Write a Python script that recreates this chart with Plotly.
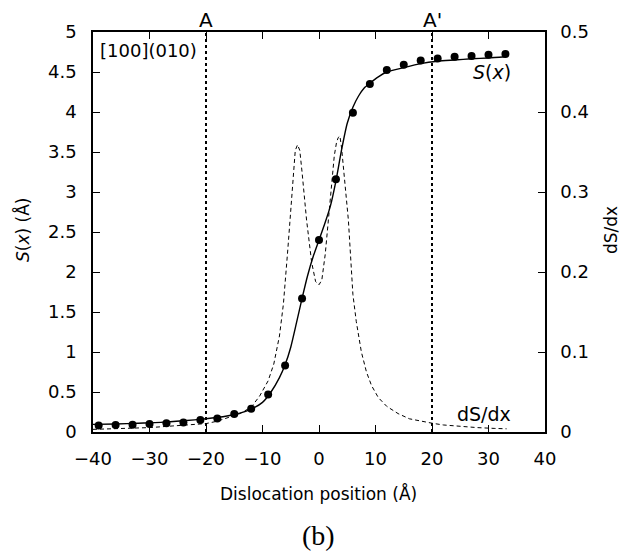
import plotly.graph_objects as go

# Simulated displacement S(x) at sampled dislocation positions (dots)
pos_x = [-39, -36, -33, -30, -27, -24, -21, -18, -15, -12, -9, -6, -3,
         0, 3, 6, 9, 12, 15, 18, 21, 24, 27, 30, 33]
pos_s = [0.08, 0.088, 0.092, 0.10, 0.108, 0.12, 0.15, 0.17, 0.225, 0.29,
         0.47, 0.83, 1.67, 2.40, 3.16, 3.99, 4.35, 4.525, 4.59, 4.645,
         4.67, 4.69, 4.70, 4.715, 4.725]

# Fitted S(x) curve
fit_x = [-40, -36, -32, -28, -24, -20, -17, -14, -12, -10, -8.5, -7, -6,
         -5, -4, -3, -2, -1, 0, 1, 2, 3, 4, 5, 6, 7, 8, 9, 10.5, 12, 15,
         18, 21, 24, 27, 30, 33]
fit_s = [0.095, 0.10, 0.11, 0.12, 0.14, 0.165, 0.19, 0.235, 0.285, 0.37,
         0.50, 0.68, 0.84, 1.06, 1.36, 1.67, 1.96, 2.20, 2.40, 2.60, 2.82,
         3.14, 3.53, 3.86, 4.06, 4.20, 4.30, 4.36, 4.44, 4.50, 4.555,
         4.605, 4.635, 4.65, 4.665, 4.675, 4.69]

# Derivative dS/dx (right axis)
der_x = [-40, -35, -30, -26, -22, -20, -18, -16, -14, -12, -10.5, -9, -8,
         -7, -6.3, -5.5, -5, -4.5, -4.2, -3.8, -3.4, -3, -2.2, -1.3, -0.6,
         0, 0.5, 1.1, 1.9, 2.7, 3.1, 3.4, 3.7, 4.0, 4.4, 5.2, 6.0, 6.6,
         7.5, 8.4, 9.3, 10.5, 12, 14, 16, 18, 20, 22, 25, 28, 31, 33.2]
der_y = [0.0033, 0.0042, 0.0055, 0.0075, 0.0092, 0.0105, 0.0135, 0.018,
         0.023, 0.031, 0.045, 0.064, 0.085, 0.12, 0.16, 0.23, 0.28, 0.33,
         0.352, 0.359, 0.352, 0.325, 0.265, 0.212, 0.188, 0.184, 0.19,
         0.222, 0.285, 0.345, 0.362, 0.368, 0.37, 0.355, 0.325, 0.265,
         0.172, 0.138, 0.10, 0.075, 0.058, 0.043, 0.032, 0.023, 0.0165,
         0.0135, 0.011, 0.0088, 0.0068, 0.0055, 0.0045, 0.004]

# Reference positions A and A'
ref_x = [-20, 20]
ref_labels = ["A", "A'"]

x_ticks = list(range(-40, 41, 10))
y_ticks = [0, 0.5, 1, 1.5, 2, 2.5, 3, 3.5, 4, 4.5, 5]
y2_ticks = [0, 0.1, 0.2, 0.3, 0.4, 0.5]

FONT = "DejaVu Sans"


def label(text, x, y, xref="paper", yref="paper", size=18, xanchor="center",
          family=FONT, angle=0):
    fig.add_annotation(x=x, y=y, xref=xref, yref=yref, text=text,
                       showarrow=False, xanchor=xanchor, yanchor="middle",
                       textangle=angle,
                       font=dict(family=family, size=size, color="black"))


fig = go.Figure()

fig.add_trace(go.Scatter(
    x=der_x, y=der_y, mode="lines", yaxis="y2",
    line=dict(color="black", width=1, dash="4px,3px"),
    showlegend=False))

fig.add_trace(go.Scatter(
    x=fit_x, y=fit_s, mode="lines",
    line=dict(color="black", width=1.4, shape="spline", smoothing=0.6),
    showlegend=False))

fig.add_trace(go.Scatter(
    x=pos_x, y=pos_s, mode="markers",
    marker=dict(color="black", size=8),
    showlegend=False))

for rx, lab in zip(ref_x, ref_labels):
    fig.add_shape(type="line", xref="x", yref="y", x0=rx, x1=rx, y0=0, y1=5,
                  line=dict(color="black", width=2, dash="3px,3px"))
    label(lab, rx, 1.03, xref="x", size=20)

label("[100](010)", 0.012, 0.955, size=18, xanchor="left")
label("<i>S</i>(<i>x</i>)", 34.4, 4.5, xref="x", yref="y", size=19,
      xanchor="right")
label("dS/dx", 34.4, 0.225, xref="x", yref="y", size=19, xanchor="right")

# Axis titles and panel tag
label("Dislocation position (Å)", 0.498, -0.1525, size=17)
label("<i>S</i>(<i>x</i>) (Å)", -0.157, 0.505, size=17, angle=-90)
label("dS/dx", 1.146, 0.505, size=17, angle=-90)
label("(b)", 0.498, -0.2575, size=28, family="Liberation Serif")

axis_common = dict(showgrid=False, zeroline=False, showline=True,
                   linecolor="black", linewidth=1.5, ticks="inside",
                   ticklen=7, tickwidth=1, tickcolor="black",
                   tickfont=dict(family=FONT, size=18, color="black"))

fig.update_layout(
    width=623, height=553,
    margin=dict(l=93, r=78, t=32, b=121),
    paper_bgcolor="white", plot_bgcolor="white",
    xaxis=dict(range=[-40, 40], tickvals=x_ticks, mirror="ticks",
               ticklabelstandoff=10, **axis_common),
    yaxis=dict(range=[0, 5], tickvals=y_ticks, ticklabelstandoff=11,
               **axis_common),
    yaxis2=dict(range=[0, 0.5], tickvals=y2_ticks, overlaying="y",
                side="right", ticklabelstandoff=10, **axis_common),
)

fig.write_html("out.html")
